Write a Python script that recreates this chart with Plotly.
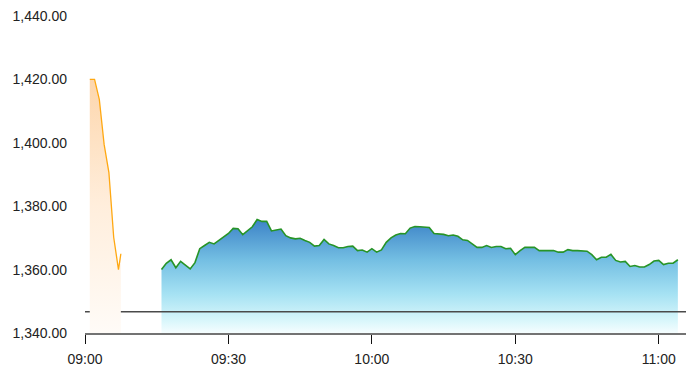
import plotly.graph_objects as go
import pandas as pd

DAY = "2024-01-02 "

# Pre-open (auction) series
pre_times = ["09:01:00", "09:02:00", "09:03:00", "09:04:00", "09:05:00",
             "09:06:00", "09:07:00", "09:07:30"]
pre_values = [1420.0, 1420.0, 1413.6, 1399.5, 1390.6, 1370.2, 1360.0, 1365.0]

# Continuous session, one value per minute from 09:16
main_start = "09:16:00"
main_values = [
    1360.0, 1362.0, 1363.1, 1360.6, 1362.6, 1361.3, 1360.2, 1362.2, 1366.6, 1367.6,
    1368.6, 1368.1, 1369.2, 1370.4, 1371.4, 1373.0, 1372.9, 1371.0, 1372.3, 1373.5,
    1375.8, 1375.2, 1375.2, 1372.2, 1372.5, 1372.8, 1370.7, 1370.0, 1369.7, 1369.9,
    1369.2, 1368.6, 1367.4, 1367.6, 1369.5, 1368.1, 1367.6, 1366.9, 1366.9, 1367.3,
    1367.4, 1366.0, 1366.2, 1365.5, 1366.6, 1365.5, 1366.2, 1368.6, 1370.0, 1370.9,
    1371.4, 1371.3, 1373.1, 1373.6, 1373.5, 1373.5, 1373.3, 1371.4, 1371.3, 1371.1,
    1370.7, 1370.9, 1370.5, 1369.4, 1369.2, 1368.1, 1367.0, 1367.0, 1367.6, 1367.0,
    1367.3, 1367.3, 1366.6, 1366.7, 1364.7, 1366.0, 1367.0, 1367.0, 1367.0, 1366.0,
    1366.0, 1366.2, 1366.0, 1365.5, 1365.5, 1366.3, 1366.0, 1366.0, 1365.8, 1365.8,
    1364.7, 1363.1, 1363.9, 1363.9, 1364.8, 1362.9, 1362.4, 1362.6, 1361.0, 1361.3,
    1360.8, 1360.8, 1361.6, 1362.7, 1362.9, 1361.6, 1362.0, 1362.0, 1363.1,
]

reference_value = 1346.7

x_range = ["09:00:00", "11:05:42"]
y_range = [1340, 1440]
y_ticks = [1340, 1360, 1380, 1400, 1420, 1440]
x_ticks = ["09:00:00", "09:30:00", "10:00:00", "10:30:00", "11:00:00"]
x_tick_labels = ["09:00", "09:30", "10:00", "10:30", "11:00"]

pre_x = pd.to_datetime([DAY + t for t in pre_times])
main_x = pd.date_range(DAY + main_start, periods=len(main_values), freq="1min")
rng = pd.to_datetime([DAY + t for t in x_range])

fig = go.Figure()

# Main session area with gradient
fig.add_trace(go.Scatter(
    x=main_x, y=main_values, mode="lines",
    line=dict(color="#279427", width=1.6),
    fill="tozeroy",
    fillgradient=dict(
        type="vertical",
        start=y_range[0], stop=max(main_values),
        colorscale=[[0, "#f7feff"], [0.12, "#d8f6fb"], [0.35, "#a6e2f3"],
                    [0.65, "#74bfe3"], [1, "#3d84c7"]],
    ),
    hoverinfo="skip", showlegend=False,
))

# Reference line
fig.add_trace(go.Scatter(
    x=rng, y=[reference_value, reference_value], mode="lines",
    line=dict(color="#4a4a4a", width=1.5),
    hoverinfo="skip", showlegend=False,
))

# Pre-open area with gradient
fig.add_trace(go.Scatter(
    x=pre_x, y=pre_values, mode="lines",
    line=dict(color="#ffa812", width=1.3),
    fill="tozeroy",
    fillgradient=dict(
        type="vertical",
        start=y_range[0], stop=max(pre_values),
        colorscale=[[0, "#fffbf7"], [0.5, "#ffeedc"], [1, "#fdd6ac"]],
    ),
    hoverinfo="skip", showlegend=False,
))

font_family = "Liberation Sans, Arial, Helvetica, sans-serif"

fig.update_layout(
    width=691, height=376,
    margin=dict(l=85, r=5, t=16, b=43),
    paper_bgcolor="white", plot_bgcolor="white",
    font=dict(family=font_family, size=14, color="#222222"),
    hovermode=False,
)
fig.update_xaxes(
    range=rng, showgrid=False, zeroline=False,
    showline=True, linecolor="#737373", linewidth=2,
    ticks="outside", ticklen=9, tickwidth=1, tickcolor="#111111",
    tickvals=pd.to_datetime([DAY + t for t in x_ticks]), ticktext=x_tick_labels,
    tickfont=dict(size=14), ticklabelstandoff=3,
)
fig.update_yaxes(
    range=y_range, showgrid=False, zeroline=False, showline=False,
    tickvals=y_ticks, tickformat=",.2f", ticks="",
    ticklabelstandoff=17, tickfont=dict(size=14),
)

fig.write_html("out.html")
